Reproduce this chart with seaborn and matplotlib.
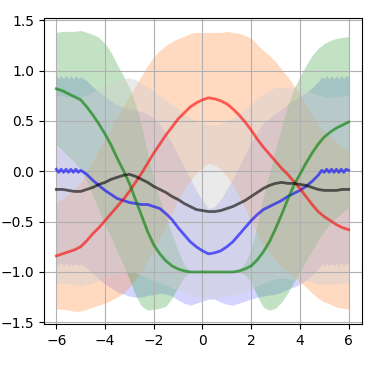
import numpy as np
import matplotlib
matplotlib.use("Agg")
import matplotlib.pyplot as plt
import seaborn as sns

# shared x grid (red / gray / green series)
x_grid = [-6.0, -5.75, -5.5, -5.25, -5.0, -4.75, -4.5, -4.25, -4.0, -3.75, -3.5, -3.25,
          -3.0, -2.75, -2.5, -2.25, -2.0, -1.75, -1.5, -1.25, -1.0, -0.75, -0.5, -0.25,
          0.0, 0.25, 0.5, 0.75, 1.0, 1.25, 1.5, 1.75, 2.0, 2.25, 2.5, 2.75, 3.0, 3.25,
          3.5, 3.75, 4.0, 4.25, 4.5, 4.75, 5.0, 5.25, 5.5, 5.75, 6.0]

red_mean = [-0.84, -0.82, -0.80, -0.78, -0.75, -0.69, -0.62, -0.56, -0.49, -0.42, -0.35, -0.28,
            -0.20, -0.11, -0.02, 0.08, 0.18, 0.27, 0.36, 0.44, 0.52, 0.58, 0.64, 0.68,
            0.71, 0.73, 0.72, 0.70, 0.67, 0.62, 0.56, 0.49, 0.41, 0.32, 0.24, 0.17, 0.10, 0.03,
            -0.03, -0.10, -0.17, -0.25, -0.33, -0.40, -0.45, -0.49, -0.53, -0.56, -0.58]
red_spread = [0.53, 0.55, 0.58, 0.61, 0.64, 0.68, 0.73, 0.77, 0.82, 0.86, 0.90, 0.93,
              0.95, 0.96, 0.97, 0.97, 0.96, 0.93, 0.89, 0.85, 0.80, 0.76, 0.73, 0.70,
              0.67, 0.65, 0.66, 0.68, 0.72, 0.76, 0.81, 0.86, 0.91, 0.94, 0.96, 0.98, 0.99, 0.98,
              0.97, 0.95, 0.93, 0.90, 0.88, 0.86, 0.85, 0.83, 0.82, 0.80, 0.79]

gray_mean = [-0.18, -0.18, -0.19, -0.20, -0.20, -0.18, -0.16, -0.13, -0.11, -0.08, -0.06, -0.04,
             -0.03, -0.05, -0.08, -0.11, -0.15, -0.18, -0.21, -0.25, -0.28, -0.32, -0.35, -0.38,
             -0.39, -0.40, -0.40, -0.39, -0.37, -0.35, -0.32, -0.29, -0.25, -0.21, -0.17, -0.14, -0.12, -0.11,
             -0.12, -0.12, -0.13, -0.14, -0.16, -0.18, -0.19, -0.19, -0.19, -0.18, -0.18]
gray_spread = [0.93, 0.93, 0.93, 0.93, 0.94, 0.94, 0.95, 0.95, 0.95, 0.96, 0.96, 0.96,
               0.96, 0.96, 0.95, 0.95, 0.94, 0.93, 0.92, 0.91, 0.90, 0.89, 0.88, 0.87,
               0.86, 0.86, 0.86, 0.86, 0.87, 0.88, 0.89, 0.91, 0.92, 0.93, 0.94, 0.95, 0.95, 0.95,
               0.95, 0.95, 0.95, 0.95, 0.94, 0.94, 0.93, 0.93, 0.93, 0.93, 0.93]

green_mean = [0.82, 0.80, 0.77, 0.74, 0.71, 0.64, 0.56, 0.47, 0.37, 0.26, 0.13, 0.01,
              -0.12, -0.28, -0.44, -0.60, -0.73, -0.82, -0.89, -0.94, -0.97, -0.99, -1.0, -1.0,
              -1.0, -1.0, -1.0, -1.0, -1.0, -1.0, -0.99, -0.97, -0.94, -0.88, -0.80, -0.70, -0.57, -0.43,
              -0.28, -0.14, -0.03, 0.08, 0.18, 0.27, 0.34, 0.39, 0.43, 0.46, 0.49]
green_spread = [0.56, 0.59, 0.62, 0.65, 0.69, 0.74, 0.80, 0.86, 0.90, 0.92, 0.93, 0.94,
                0.95, 0.95, 0.90, 0.78, 0.64, 0.54, 0.45, 0.32, 0.18, 0.06, 0.0, 0.0,
                0.0, 0.0, 0.0, 0.0, 0.0, 0.0, 0.01, 0.06, 0.16, 0.36, 0.55, 0.68, 0.79, 0.87,
                0.93, 0.96, 0.97, 0.97, 0.97, 0.95, 0.93, 0.91, 0.89, 0.87, 0.85]

blue_x = [-6.0, -5.9, -5.8, -5.7, -5.6, -5.5, -5.4, -5.3, -5.2, -5.1, -5.0,
          -4.75, -4.5, -4.25, -4.0, -3.75, -3.5, -3.25, -3.0, -2.75, -2.5, -2.25, -2.0, -1.75,
          -1.5, -1.25, -1.0, -0.75, -0.5, -0.25, 0.0, 0.25, 0.5, 0.75, 1.0, 1.25, 1.5, 1.75,
          2.0, 2.25, 2.5, 2.75, 3.0, 3.25, 3.5, 3.75, 4.0, 4.25, 4.5, 4.75,
          4.9, 5.0, 5.1, 5.2, 5.3, 5.4, 5.5, 5.6, 5.7, 5.8, 5.9, 6.0]
blue_mean = [0.02, -0.01, 0.02, -0.01, 0.02, -0.01, 0.02, -0.01, 0.02, -0.01, 0.01,
             -0.03, -0.09, -0.14, -0.19, -0.23, -0.27, -0.29, -0.31, -0.32, -0.33, -0.33, -0.35, -0.37,
             -0.42, -0.48, -0.56, -0.63, -0.70, -0.75, -0.79, -0.82, -0.81, -0.79, -0.75, -0.70, -0.63, -0.56,
             -0.49, -0.43, -0.38, -0.35, -0.32, -0.29, -0.25, -0.22, -0.19, -0.15, -0.10, -0.04,
             0.01, -0.01, 0.02, -0.01, 0.02, -0.01, 0.02, -0.01, 0.02, -0.01, 0.02, 0.01]
blue_spread = [0.93, 0.93, 0.93, 0.93, 0.93, 0.93, 0.93, 0.93, 0.93, 0.93, 0.93,
               0.93, 0.93, 0.93, 0.93, 0.93, 0.93, 0.93, 0.93, 0.93, 0.92, 0.90, 0.88, 0.84,
               0.80, 0.76, 0.72, 0.68, 0.63, 0.56, 0.50, 0.45, 0.46, 0.51, 0.57, 0.63, 0.68, 0.73,
               0.78, 0.82, 0.86, 0.88, 0.90, 0.91, 0.92, 0.93, 0.93, 0.93, 0.93, 0.93,
               0.93, 0.93, 0.93, 0.93, 0.93, 0.93, 0.93, 0.93, 0.93, 0.93, 0.93, 0.93]

x_ticks = [-6, -4, -2, 0, 2, 4, 6]
y_ticks = [-1.5, -1.0, -0.5, 0.0, 0.5, 1.0, 1.5]

fig = plt.figure(figsize=(3.8, 3.65), dpi=100)
ax = fig.add_axes([44 / 380, 1 - 324 / 365, (362 - 44) / 380, (324 - 17.7) / 365])


def band(m, s):
    m = np.asarray(m, float)
    s = np.asarray(s, float)
    return m - s, m + s


lo, hi = band(blue_mean, blue_spread)
ax.fill_between(blue_x, lo, hi, color=(0, 0, 1), alpha=0.17, lw=0)
lo, hi = band(red_mean, red_spread)
ax.fill_between(x_grid, lo, hi, color="#ff9955", alpha=0.36, lw=0)
lo, hi = band(green_mean, green_spread)
ax.fill_between(x_grid, lo, hi, color="#2a9a2a", alpha=0.28, lw=0)
lo, hi = band(gray_mean, gray_spread)
ax.fill_between(x_grid, lo, hi, color=(0.82, 0.82, 0.82), alpha=0.45, lw=0)

sns.lineplot(x=blue_x, y=blue_mean, ax=ax, color=(0, 0, 1), alpha=0.6, lw=2, sort=False)
sns.lineplot(x=x_grid, y=red_mean, ax=ax, color=(1, 0, 0), alpha=0.6, lw=2, sort=False)
sns.lineplot(x=x_grid, y=green_mean, ax=ax, color=(0, 0.5, 0), alpha=0.62, lw=2, sort=False)
sns.lineplot(x=x_grid, y=gray_mean, ax=ax, color=(0, 0, 0), alpha=0.6, lw=2, sort=False)

ax.set_xlim(-6.505, 6.55)
ax.set_ylim(-1.517, 1.526)
ax.set_xticks(x_ticks)
ax.set_yticks(y_ticks)
ax.grid(True, color="#b0b0b0", lw=0.8)
ax.set_xlabel("")
ax.set_ylabel("")

fig.savefig("out.png", dpi=100)
